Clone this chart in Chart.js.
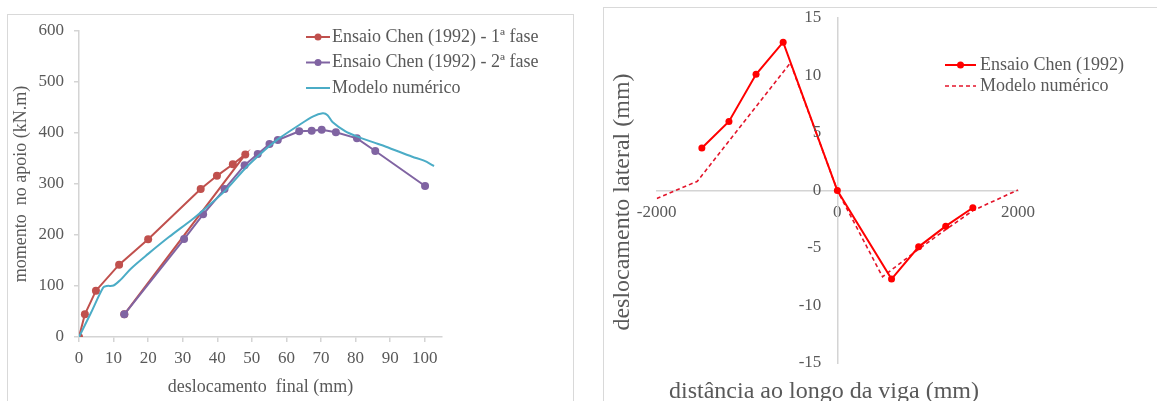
<!DOCTYPE html>
<html><head><meta charset="utf-8">
<script src="https://cdn.jsdelivr.net/npm/chart.js@4.4.1/dist/chart.umd.min.js"></script>
<style>
html,body{margin:0;padding:0;background:#fff;width:1157px;height:401px;overflow:hidden;}
.frame{position:absolute;border:1px solid #d9d9d9;box-sizing:border-box;}
#f1{left:7px;top:14px;width:567px;height:420px;}
#f2{left:603px;top:7px;width:600px;height:420px;}
#c1{position:absolute;left:0;top:0;}
#c2{position:absolute;left:580px;top:0;}
</style></head><body>
<div class="frame" id="f1"></div><div class="frame" id="f2"></div>
<canvas id="c1" width="580" height="401"></canvas>
<canvas id="c2" width="577" height="401"></canvas>
<script>
// ---------- Left chart data ----------
const fase1X = [0, 1.7, 4.9, 11.6, 20.0, 35.2, 39.9, 44.5, 48.1, 13.1];
const fase1Y = [0, 44.5, 90.8, 141.8, 191.5, 290, 316, 338.6, 358, 44.5];
const fase2X = [13.1, 30.4, 35.9, 42.1, 47.9, 51.7, 55.1, 57.5, 63.7, 67.3, 70.2, 74.3, 80.4, 85.7, 100.1];
const fase2Y = [44.5, 192, 240.6, 290, 337, 358.8, 378.4, 386.3, 403.3, 404.6, 406.5, 401.3, 389.6, 364.7, 296];
const modeloX = [0, 3.5, 7, 8, 10, 12, 15, 20, 26, 33, 37, 42, 48, 52, 55, 58, 63.7, 67.6, 70.5, 71.9, 73.4, 77.2, 80.1, 85, 88.8, 96.4, 99.8, 102.7];
const modeloY = [0, 48, 97, 100, 101, 112, 134, 163, 196, 232, 255, 285, 330, 356, 374, 390, 415.7, 432, 438.6, 435, 421, 402.5, 394, 382, 373, 353.5, 345.7, 335.3];
const labelsLeft = ['Ensaio Chen (1992) - 1ª fase', 'Ensaio Chen (1992) - 2ª fase', 'Modelo numérico'];
const xTitleLeft = 'deslocamento  final (mm)';
const yTitleLeft = 'momento  no apoio (kN.m)';

// ---------- Right chart data ----------
const ensaioX = [-1500, -1200, -900, -600, 0, 600, 900, 1200, 1500];
const ensaioY = [3.7, 6.0, 10.1, 12.9, 0, -7.7, -4.9, -3.1, -1.5];
const modelo2X = [-2000, -1550, -520, 0, 500, 900, 1200, 1500, 2000];
const modelo2Y = [-0.7, 0.8, 11.1, 0, -7.5, -5.1, -3.4, -1.75, 0.05];
const labelsRight = ['Ensaio Chen (1992)', 'Modelo numérico'];
const xTitleRight = 'distância ao longo da viga (mm)';
const yTitleRight = 'deslocamento lateral (mm)';

const pts = (xs, ys) => xs.map((x, i) => ({x, y: ys[i]}));
const FONT = 'Liberation Serif';
const GREY = '#595959';
const AXIS = '#d4d4d4';

const lineLegend = {
  id: 'lineLegend',
  afterDraw(chart, args, o) {
    const ctx = chart.ctx;
    ctx.save();
    chart.data.datasets.forEach((ds, i) => {
      const y = o.y + i * o.step;
      ctx.strokeStyle = ds.borderColor;
      ctx.lineWidth = ds.borderWidth;
      ctx.setLineDash(ds.borderDash || []);
      ctx.beginPath(); ctx.moveTo(o.x, y); ctx.lineTo(o.x + o.len, y); ctx.stroke();
      ctx.setLineDash([]);
      if (ds.pointRadius > 0) {
        ctx.fillStyle = ds.pointBackgroundColor || ds.borderColor;
        ctx.beginPath(); ctx.arc(o.x + o.len / 2, y, o.r, 0, Math.PI * 2); ctx.fill();
      }
      ctx.fillStyle = o.color; ctx.font = o.font;
      ctx.textBaseline = 'middle'; ctx.textAlign = 'left';
      ctx.fillText(ds.label, o.x + o.len + o.gap, y);
    });
    ctx.restore();
  }
};

const centreAxisText = {
  id: 'centreAxisText',
  afterDraw(chart, args, o) {
    const {ctx, scales: {x, y}} = chart;
    ctx.save();
    ctx.fillStyle = o.color;
    ctx.font = o.tickFont;
    ctx.textAlign = 'right'; ctx.textBaseline = 'middle';
    const x0 = x.getPixelForValue(0);
    y.ticks.forEach(t => ctx.fillText(String(t.value), x0 - o.gap, y.getPixelForValue(t.value)));
    ctx.font = o.titleFont; ctx.textBaseline = 'alphabetic'; ctx.textAlign = 'center';
    ctx.fillText(o.xTitle, o.xTitleX, o.xTitleY);
    ctx.translate(o.yTitleX, o.yTitleY); ctx.rotate(-Math.PI / 2);
    ctx.fillText(o.yTitle, 0, 0);
    ctx.restore();
  }
};

new Chart(document.getElementById('c1'), {
  type: 'line',
  data: {
    datasets: [
      {label: labelsLeft[0], data: pts(fase1X, fase1Y), borderColor: '#C0504D', backgroundColor: '#C0504D', pointBackgroundColor: '#C0504D', borderWidth: 2, pointRadius: 4, pointBorderWidth: 0, tension: 0, order: 3},
      {label: labelsLeft[1], data: pts(fase2X, fase2Y), borderColor: '#8064A2', backgroundColor: '#8064A2', pointBackgroundColor: '#8064A2', borderWidth: 2, pointRadius: 4, pointBorderWidth: 0, tension: 0, order: 2},
      {label: labelsLeft[2], data: pts(modeloX, modeloY), borderColor: '#4BACC6', backgroundColor: '#4BACC6', borderWidth: 2, pointRadius: 0, tension: 0.3, order: 1}
    ]
  },
  options: {
    responsive: false, animation: false,
    layout: {padding: {left: 0, top: 31, right: 138, bottom: 0}},
    plugins: {
      legend: {display: false}, tooltip: {enabled: false},
      lineLegend: {x: 306, y: 37, step: 25.5, len: 24, r: 3.5, gap: 2, color: GREY, font: '18px "Liberation Serif"'}
    },
    scales: {
      x: {
        type: 'linear', min: 0, max: 105,
        afterFit: s => { s.height = 64; },
        ticks: {stepSize: 10, includeBounds: false, color: GREY, font: {family: FONT, size: 17}, padding: 6, maxRotation: 0, autoSkip: false},
        grid: {drawOnChartArea: false, drawTicks: true, tickLength: 5, color: AXIS, lineWidth: 1.5},
        border: {color: AXIS, width: 1.5},
        title: {display: true, text: xTitleLeft, color: GREY, font: {family: FONT, size: 18}, padding: {top: 0, bottom: 3}}
      },
      y: {
        min: 0, max: 600,
        afterFit: s => { s.width = 79; },
        ticks: {stepSize: 100, color: GREY, font: {family: FONT, size: 17}, padding: 10},
        grid: {drawOnChartArea: false, drawTicks: true, tickLength: 5, color: AXIS, lineWidth: 1.5},
        border: {color: AXIS, width: 1.5},
        title: {display: true, text: yTitleLeft, color: GREY, font: {family: FONT, size: 18}, padding: {top: 10, bottom: 0}}
      }
    }
  },
  plugins: [lineLegend]
});

new Chart(document.getElementById('c2'), {
  type: 'line',
  data: {
    datasets: [
      {label: labelsRight[0], data: pts(ensaioX, ensaioY), borderColor: '#FF0000', backgroundColor: '#FF0000', pointBackgroundColor: '#FF0000', borderWidth: 2, pointRadius: 3.5, pointBorderWidth: 0, tension: 0},
      {label: labelsRight[1], data: pts(modelo2X, modelo2Y), borderColor: '#E3152B', backgroundColor: '#E3152B', borderWidth: 1.6, borderDash: [4, 3], pointRadius: 0, tension: 0}
    ]
  },
  options: {
    responsive: false, animation: false,
    layout: {padding: {left: 76.7, right: 139, top: 18, bottom: 38}},
    plugins: {
      legend: {display: false}, tooltip: {enabled: false},
      lineLegend: {x: 365, y: 65, step: 21, len: 31, r: 3.5, gap: 4, color: GREY, font: '18px "Liberation Serif"'},
      centreAxisText: {color: GREY, tickFont: '17px "Liberation Serif"', gap: 16,
        titleFont: '24px "Liberation Serif"', xTitle: xTitleRight, xTitleX: 244, xTitleY: 398,
        yTitle: yTitleRight, yTitleX: 49, yTitleY: 202}
    },
    scales: {
      x: {
        type: 'linear', min: -2000, max: 2000, position: {y: 0},
        afterFit: s => { s.height = 0; },
        ticks: {stepSize: 2000, color: GREY, font: {family: FONT, size: 17}, padding: 12, maxRotation: 0, autoSkip: false, callback: v => String(v)},
        grid: {display: false, drawTicks: false},
        border: {color: AXIS, width: 1.5}
      },
      y: {
        min: -15, max: 15, position: {x: 0},
        afterFit: s => { s.width = 0; },
        ticks: {stepSize: 5, display: false},
        grid: {display: false, drawTicks: false},
        border: {color: AXIS, width: 1.5}
      }
    }
  },
  plugins: [lineLegend, centreAxisText]
});
</script>
</body></html>
